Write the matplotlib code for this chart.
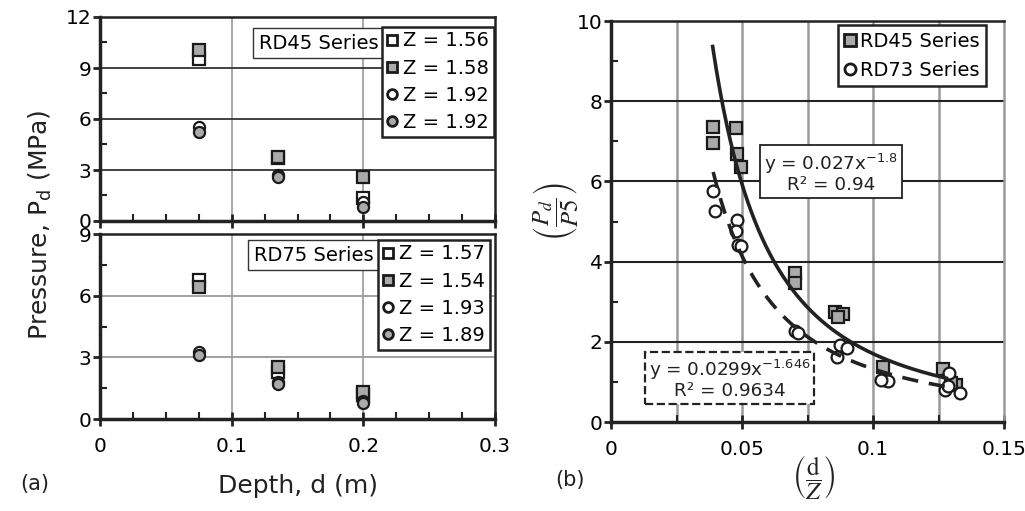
import numpy as np
import matplotlib
matplotlib.use("Agg")
import matplotlib.pyplot as plt
from matplotlib.lines import Line2D
from matplotlib.ticker import MultipleLocator, FixedLocator, FixedFormatter

# ---------------- data ----------------
depth = [0.075, 0.135, 0.2]

# (a) top: RD45 series
rd45_labels = ["Z = 1.56", "Z = 1.58", "Z = 1.92", "Z = 1.92"]
rd45_z156 = [9.5, 3.7, 1.33]
rd45_z158 = [10.06, 3.78, 2.57]
rd45_z192a = [5.55, 2.7, 1.1]
rd45_z192b = [5.25, 2.6, 0.8]

# (a) bottom: RD75 series
rd75_labels = ["Z = 1.57", "Z = 1.54", "Z = 1.93", "Z = 1.89"]
rd75_z157 = [6.76, 2.3, 1.15]
rd75_z154 = [6.43, 2.55, 1.33]
rd75_z193 = [3.27, 1.81, 0.9]
rd75_z189 = [3.11, 1.7, 0.79]

# (b) normalised
b_rd45_x = [0.039, 0.039, 0.0476, 0.0482, 0.0495, 0.0702, 0.0702,
            0.0854, 0.0886, 0.0867, 0.1039, 0.1267, 0.1318, 0.1299]
b_rd45_y = [7.36, 6.96, 7.34, 6.68, 6.35, 3.71, 3.46,
            2.75, 2.70, 2.63, 1.38, 1.32, 0.93, 0.97]
b_rd73_x = [0.0388, 0.0397, 0.0482, 0.0477, 0.0486, 0.0498, 0.0702, 0.0714,
            0.0873, 0.0899, 0.0861, 0.1045, 0.1058, 0.1032,
            0.129, 0.1274, 0.1331, 0.1286]
b_rd73_y = [5.77, 5.25, 5.04, 4.76, 4.42, 4.40, 2.26, 2.23,
            1.93, 1.84, 1.63, 1.04, 1.01, 1.04,
            1.22, 0.80, 0.72, 0.89]

fit45_a, fit45_b, fit45_range = 0.027, -1.8, (0.0388, 0.128)
fit73_a, fit73_b, fit73_range = 0.0299, -1.646, (0.039, 0.131)

# ---------------- style ----------------
plt.rcParams['font.family'] = ['DejaVu Sans']
GRAY = '#aaaaaa'
EDGE = '#1a1a1a'
DARK = '#222222'
GRID_GRAY = '#9a9a9a'

W, H = 1025, 511
fig = plt.figure(figsize=(W / 100, H / 100), dpi=100)

def fr(l, t, r, b):
    return [l / W, 1 - b / H, (r - l) / W, (b - t) / H]

ax1 = fig.add_axes(fr(100, 17, 495, 221))
ax2 = fig.add_axes(fr(100, 234, 495, 419))
ax3 = fig.add_axes(fr(611, 21, 1004, 422))

sq_open = dict(marker='s', ms=8, mfc='white', mec=EDGE, mew=1.6, ls='none')
sq_gray = dict(marker='s', ms=8, mfc=GRAY, mec=EDGE, mew=1.6, ls='none')
ci_open = dict(marker='o', ms=8, mfc='white', mec=EDGE, mew=1.6, ls='none')
ci_gray = dict(marker='o', ms=8, mfc=GRAY, mec=EDGE, mew=1.6, ls='none')

TICK_FS = 14.5


def style_left(ax, ymax, hgrid_color, show_xlabels):
    ax.set_xlim(0, 0.3)
    ax.set_ylim(0, ymax)
    ax.xaxis.set_major_locator(FixedLocator([0, 0.1, 0.2, 0.3]))
    ax.xaxis.set_minor_locator(MultipleLocator(0.025))
    ax.yaxis.set_major_locator(MultipleLocator(3))
    ax.yaxis.set_minor_locator(MultipleLocator(1.5))
    if show_xlabels:
        ax.xaxis.set_major_formatter(FixedFormatter(['0', '0.1', '0.2', '0.3']))
    else:
        ax.tick_params(axis='x', labelbottom=False)
    ax.tick_params(axis='x', which='major', direction='inout', length=10, width=2, color=DARK,
                   labelsize=TICK_FS, pad=8)
    ax.tick_params(axis='x', which='minor', direction='in', length=5, width=1.5, color=DARK)
    ax.tick_params(axis='y', which='major', direction='out', length=5, width=2, color=DARK,
                   labelsize=TICK_FS, pad=1)
    ax.tick_params(axis='y', which='minor', direction='in', length=5, width=1.5, color=DARK)
    for s in ['left', 'bottom']:
        ax.spines[s].set_linewidth(2.5)
        ax.spines[s].set_color(DARK)
    for s in ['top', 'right']:
        ax.spines[s].set_linewidth(1.8)
        ax.spines[s].set_color(DARK)
    for v in [0.1, 0.2]:
        ax.axvline(v, color=GRID_GRAY, lw=1.2, zorder=0)
    for h in np.arange(3, ymax, 3):
        ax.axhline(h, color=hgrid_color, lw=1.3, zorder=0)


style_left(ax1, 12, '#333333', False)
style_left(ax2, 9, GRID_GRAY, True)

h1 = [ax1.plot(depth, rd45_z156, **sq_open)[0],
      ax1.plot(depth, rd45_z158, **sq_gray)[0],
      ax1.plot(depth, rd45_z192a, **ci_open)[0],
      ax1.plot(depth, rd45_z192b, **ci_gray)[0]]
h2 = [ax2.plot(depth, rd75_z157, **sq_open)[0],
      ax2.plot(depth, rd75_z154, **sq_gray)[0],
      ax2.plot(depth, rd75_z193, **ci_open)[0],
      ax2.plot(depth, rd75_z189, **ci_gray)[0]]


def legend_left(ax, handles, labels, anchor, series_text, series_pos):
    leg = ax.legend(handles, labels, loc='upper right', bbox_to_anchor=anchor,
                    fontsize=14, frameon=True, fancybox=False, framealpha=1,
                    edgecolor=DARK, handlelength=0.6, handletextpad=0.25,
                    borderpad=0.25, labelspacing=0.42, borderaxespad=0)
    leg.get_frame().set_linewidth(1.8)
    for lh in leg.legend_handles:
        lh.set_markersize(7)
        lh.set_markeredgewidth(2)
    ax.text(series_pos[0], series_pos[1], series_text, transform=ax.transAxes,
            fontsize=14, ha='right', va='center', zorder=5,
            bbox=dict(boxstyle='square,pad=0.3', fc='white', ec='#333333', lw=1.0))


legend_left(ax1, h1, rd45_labels, (0.997, 0.953), 'RD45 Series', (0.706, 0.872))
legend_left(ax2, h2, rd75_labels, (0.987, 0.97), 'RD75 Series', (0.692, 0.886))

fig.text(40 / W, 1 - 225 / H, 'Pressure, P$_\\mathregular{d}$ (MPa)', rotation=90,
         ha='center', va='center', fontsize=18, color=DARK)
fig.text(298 / W, 1 - 486 / H, 'Depth, d (m)', ha='center', va='center', fontsize=18, color=DARK)
fig.text(20 / W, 1 - 484 / H, '(a)', ha='left', va='center', fontsize=15, color=DARK)
fig.text(555 / W, 1 - 480 / H, '(b)', ha='left', va='center', fontsize=15, color=DARK)

# ---------------- (b) ----------------
ax3.set_xlim(0, 0.15)
ax3.set_ylim(0, 10)
ax3.xaxis.set_major_locator(FixedLocator([0, 0.05, 0.1, 0.15]))
ax3.xaxis.set_major_formatter(FixedFormatter(['0', '0.05', '0.1', '0.15']))
ax3.xaxis.set_minor_locator(MultipleLocator(0.025))
ax3.yaxis.set_major_locator(MultipleLocator(2))
ax3.yaxis.set_minor_locator(MultipleLocator(1))
ax3.tick_params(axis='x', which='major', direction='inout', length=10, width=2, color=DARK,
                labelsize=TICK_FS, pad=8)
ax3.tick_params(axis='x', which='minor', direction='in', length=5, width=1.5, color=DARK)
ax3.tick_params(axis='y', which='major', direction='out', length=5, width=2, color=DARK,
                labelsize=TICK_FS, pad=1)
ax3.tick_params(axis='y', which='minor', direction='in', length=5, width=1.5, color=DARK)
for s in ['left', 'bottom']:
    ax3.spines[s].set_linewidth(2.5)
    ax3.spines[s].set_color(DARK)
ax3.spines['top'].set_linewidth(1.8)
ax3.spines['top'].set_color(DARK)
ax3.spines['right'].set_linewidth(1.8)
ax3.spines['right'].set_color(GRID_GRAY)
for v in np.arange(0.025, 0.15, 0.025):
    ax3.axvline(v, color=GRID_GRAY, lw=1.8, zorder=0)
for h in [2, 4, 6, 8]:
    ax3.axhline(h, color='#222222', lw=1.5, zorder=0)

ax3.plot(b_rd45_x, b_rd45_y, marker='s', ms=8.5, mfc=GRAY, mec=EDGE, mew=1.6, ls='none', zorder=3)
ax3.plot(b_rd73_x, b_rd73_y, marker='o', ms=8.5, mfc='white', mec=EDGE, mew=1.6, ls='none', zorder=3)

xs = np.linspace(*fit45_range, 200)
ax3.plot(xs, fit45_a * xs ** fit45_b, color=DARK, lw=2.6, zorder=4)
xs2 = np.linspace(*fit73_range, 200)
ax3.plot(xs2, fit73_a * xs2 ** fit73_b, color=DARK, lw=2.6, ls=(0, (4.5, 3)), zorder=4)

lh = [Line2D([], [], marker='s', ms=8, mfc=GRAY, mec=EDGE, mew=2, ls='none'),
      Line2D([], [], marker='o', ms=8, mfc='white', mec=EDGE, mew=2, ls='none')]
leg3 = ax3.legend(lh, ['RD45 Series', 'RD73 Series'], loc='upper right',
                  bbox_to_anchor=(0.955, 0.99), fontsize=14, frameon=True, fancybox=False,
                  framealpha=1, edgecolor=DARK, handlelength=0.6, handletextpad=0.2,
                  borderpad=0.35, labelspacing=0.5, borderaxespad=0)
leg3.get_frame().set_linewidth(1.8)

ax3.text(0.0839, 6.22, 'y = 0.027x$^{\\mathregular{-1.8}}$\nR² = 0.94', ha='center', va='center',
         fontsize=13.2, linespacing=1.0, zorder=6, color=DARK,
         bbox=dict(boxstyle='square,pad=0.22', fc='white', ec=DARK, lw=1.3))
ax3.text(0.0452, 1.07, 'y = 0.0299x$^{\\mathregular{-1.646}}$\nR² = 0.9634', ha='center', va='center',
         fontsize=13.2, linespacing=1.0, zorder=6, color=DARK,
         bbox=dict(boxstyle='square,pad=0.22', fc='white', ec=DARK, lw=1.6, ls='--'))

fig.text(556 / W, 1 - 212 / H, r'$\left(\dfrac{P_d}{P5}\right)$', rotation=90, ha='center',
         va='center', fontsize=18, math_fontfamily='stix', color=DARK)
fig.text(814 / W, 1 - 477 / H, r'$\left(\dfrac{\mathrm{d}}{Z}\right)$', ha='center',
         va='center', fontsize=18, math_fontfamily='stix', color=DARK)

fig.savefig('out.png', dpi=100)
